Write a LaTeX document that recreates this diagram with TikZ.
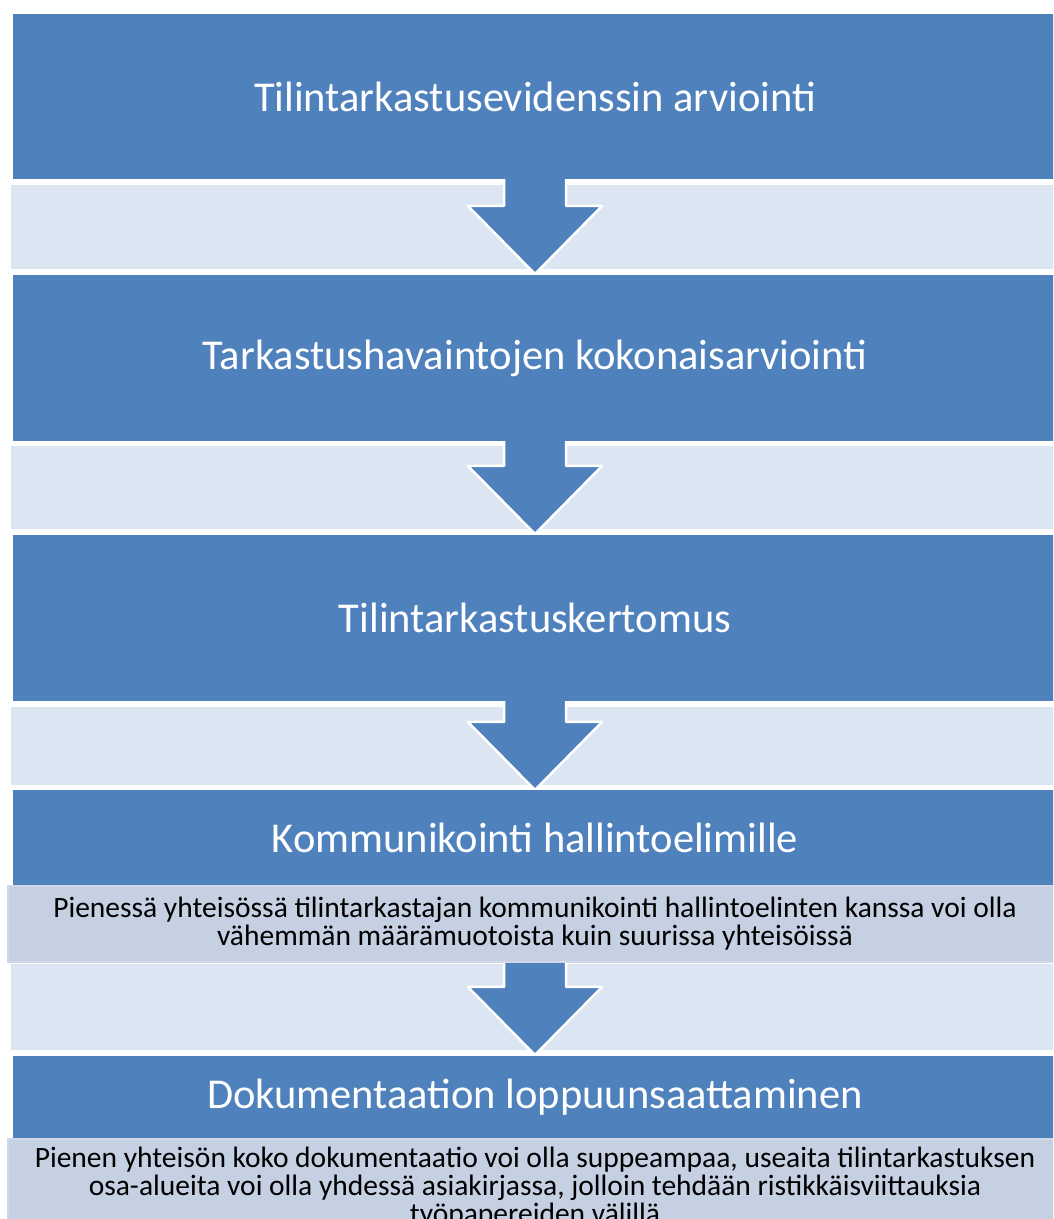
\documentclass[tikz,border=0pt]{standalone}
\usepackage{fontspec}
\setmainfont{Carlito}
\usetikzlibrary{calc}

\definecolor{stageblue}{RGB}{79,129,189}
\definecolor{gapblue}{RGB}{220,230,242}
\definecolor{noteblue}{RGB}{197,208,227}
\definecolor{noteedge}{RGB}{209,216,231}

\begin{document}
\begin{tikzpicture}[x=1pt,y=1pt,stage/.style={fill=stageblue,minimum width=1044pt,inner sep=0pt,text=white,font=\fontsize{42.5}{50}\selectfont},gap/.style={fill=gapblue,draw=white,line width=2pt,minimum width=1050pt,inner sep=0pt},note/.style={fill=noteblue,draw=noteedge,line width=2pt,minimum width=1054pt,inner sep=0pt,align=center,font=\fontsize{29.5}{28}\selectfont},flow/.style={fill=stageblue,draw=white,line width=2.5pt,line join=round}]
  \useasboundingbox (0,0) rectangle (1053,1219);
  \clip (0,0) rectangle (1053,1219);
  \node[gap,minimum height=86pt] (gap1) at (535,992) {};
  \node[gap,minimum height=85pt] (gap2) at (535,731.5) {};
  \node[gap,minimum height=80pt] (gap3) at (535,473) {};
  \node[gap,minimum height=88pt] (gap4) at (535,212) {};
  \draw[flow] ($ (gap1.north) + (-31,8) $) -- ($ (gap1.south) + (-31,65) $) -- ($ (gap1.south) + (-67,65) $) -- ($ (gap1.south) + (0,-3) $) -- ($ (gap1.south) + (67,65) $) -- ($ (gap1.south) + (31,65) $) -- ($ (gap1.north) + (31,8) $);
  \draw[flow] ($ (gap2.north) + (-31,8) $) -- ($ (gap2.south) + (-31,65) $) -- ($ (gap2.south) + (-67,65) $) -- ($ (gap2.south) + (0,-3) $) -- ($ (gap2.south) + (67,65) $) -- ($ (gap2.south) + (31,65) $) -- ($ (gap2.north) + (31,8) $);
  \draw[flow] ($ (gap3.north) + (-31,8) $) -- ($ (gap3.south) + (-31,65) $) -- ($ (gap3.south) + (-67,65) $) -- ($ (gap3.south) + (0,-3) $) -- ($ (gap3.south) + (67,65) $) -- ($ (gap3.south) + (31,65) $) -- ($ (gap3.north) + (31,8) $);
  \draw[flow] ($ (gap4.north) + (-31,8) $) -- ($ (gap4.south) + (-31,65) $) -- ($ (gap4.south) + (-67,65) $) -- ($ (gap4.south) + (0,-3) $) -- ($ (gap4.south) + (67,65) $) -- ($ (gap4.south) + (31,65) $) -- ($ (gap4.north) + (31,8) $);
  \node[stage,minimum height=165pt] (evidence) at (535,1122.5) {Tilintarkastusevidenssin arviointi};
  \node[stage,minimum height=166pt] (findings) at (535,861) {Tarkastushavaintojen kokonaisarviointi};
  \node[stage,minimum height=166pt] (report) at (535,601) {Tilintarkastuskertomus};
  \node[stage,minimum height=96pt] (governance) at (535,381) {Kommunikointi hallintoelimille};
  \node[note,minimum height=76pt] (governancenote) at (535,295) {Pienessä yhteisössä tilintarkastajan kommunikointi hallintoelinten kanssa voi olla\\vähemmän määrämuotoista kuin suurissa yhteisöissä};
  \node[stage,minimum height=83pt] (completion) at (535,121.5) {Dokumentaation loppuunsaattaminen};
  \node[note,minimum height=98pt] (completionnote) at (535,31) {Pienen yhteisön koko dokumentaatio voi olla suppeampaa, useaita tilintarkastuksen\\osa-alueita voi olla yhdessä asiakirjassa, jolloin tehdään ristikkäisviittauksia\\työpapereiden välillä};
\end{tikzpicture}
\end{document}
